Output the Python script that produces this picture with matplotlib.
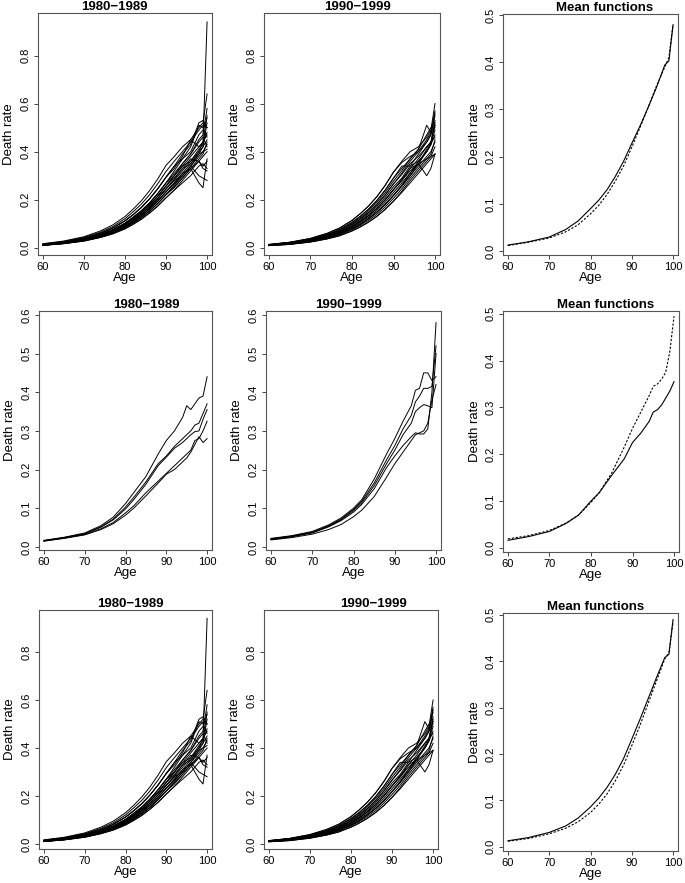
import numpy as np
import matplotlib
matplotlib.use("Agg")
import matplotlib.pyplot as plt

plt.rcParams['font.family'] = ['Liberation Sans', 'DejaVu Sans']

age_a = [60, 65, 70, 74, 77, 80, 82, 84, 86, 88, 90, 92, 94, 96, 98, 99, 100]
age_b = [60, 65, 70, 74, 77, 80, 82, 85, 88, 90, 92, 94, 95, 96, 97, 98, 99, 100]

# 1980-1989, all regions
rates_80s = [
    [.017, .028, .046, .070, .095, .130, .161, .196, .238, .287, .343, .380, .420, .450, .500, .520, .640],
    [.016, .026, .043, .065, .088, .121, .150, .182, .221, .267, .318, .360, .400, .440, .490, .510, .500],
    [.014, .024, .040, .060, .082, .112, .138, .168, .204, .246, .294, .330, .380, .450, .420, .440, .470],
    [.014, .024, .040, .060, .082, .112, .138, .168, .204, .246, .294, .340, .370, .400, .470, .490, .540],
    [.013, .022, .036, .055, .075, .102, .127, .154, .187, .226, .270, .310, .350, .390, .450, .470, .580],
    [.013, .022, .036, .055, .075, .102, .127, .154, .187, .226, .270, .300, .340, .360, .400, .420, .450],
    [.013, .021, .035, .053, .071, .098, .121, .147, .179, .215, .257, .300, .340, .380, .420, .440, .940],
    [.013, .021, .035, .053, .071, .098, .121, .147, .179, .215, .257, .290, .330, .370, .360, .330, .320],
    [.012, .020, .033, .050, .068, .093, .115, .140, .170, .205, .245, .280, .320, .360, .410, .430, .550],
    [.012, .020, .033, .050, .068, .093, .115, .140, .170, .205, .245, .285, .330, .350, .390, .400, .430],
    [.012, .020, .033, .050, .068, .093, .115, .140, .170, .205, .245, .280, .300, .340, .300, .290, .280],
    [.011, .019, .031, .048, .065, .088, .109, .133, .162, .195, .233, .270, .310, .350, .400, .440, .480],
    [.011, .019, .031, .048, .065, .088, .109, .133, .162, .195, .233, .265, .300, .340, .380, .400, .410],
    [.011, .019, .031, .048, .065, .088, .109, .133, .162, .195, .233, .270, .310, .330, .270, .250, .370],
    [.011, .018, .030, .045, .061, .084, .104, .126, .153, .185, .221, .255, .290, .330, .370, .390, .440],
    [.011, .018, .030, .045, .061, .084, .104, .126, .153, .185, .221, .250, .290, .330, .360, .340, .360],
    [.011, .018, .030, .045, .061, .084, .104, .126, .153, .185, .221, .260, .300, .340, .390, .420, .520],
    [.010, .017, .028, .043, .058, .079, .098, .119, .145, .174, .208, .240, .280, .320, .360, .380, .400],
    [.010, .017, .028, .043, .058, .079, .098, .119, .145, .174, .208, .240, .270, .300, .340, .350, .330],
    [.013, .022, .036, .055, .075, .102, .127, .154, .187, .226, .270, .320, .370, .420, .510, .500, .460],
    [.014, .024, .040, .060, .082, .112, .138, .168, .204, .246, .294, .340, .390, .430, .520, .530, .500],
    [.013, .021, .035, .053, .071, .098, .121, .147, .179, .215, .257, .300, .350, .390, .440, .460, .420],
]

# 1990-1999, all regions
rates_90s = [
    [.014, .023, .039, .060, .082, .114, .142, .174, .213, .260, .315, .360, .400, .420, .460, .490, .600],
    [.014, .023, .039, .060, .082, .114, .142, .174, .213, .260, .315, .355, .380, .400, .440, .470, .550],
    [.013, .022, .036, .055, .076, .106, .131, .161, .197, .240, .290, .330, .370, .410, .510, .480, .500],
    [.013, .022, .036, .055, .076, .106, .131, .161, .197, .240, .290, .340, .340, .360, .400, .430, .520],
    [.012, .020, .033, .051, .069, .097, .120, .147, .180, .220, .266, .310, .360, .400, .450, .480, .570],
    [.012, .020, .033, .051, .069, .097, .120, .147, .180, .220, .266, .305, .350, .380, .420, .440, .460],
    [.011, .018, .030, .046, .063, .088, .109, .134, .164, .200, .242, .285, .330, .370, .420, .440, .530],
    [.011, .018, .030, .046, .063, .088, .109, .134, .164, .200, .242, .280, .320, .350, .400, .430, .490],
    [.011, .018, .030, .046, .063, .088, .109, .134, .164, .200, .242, .280, .330, .350, .300, .330, .390],
    [.010, .016, .027, .041, .057, .079, .098, .121, .148, .180, .218, .260, .300, .340, .380, .400, .440],
    [.010, .016, .027, .041, .057, .079, .098, .121, .148, .180, .218, .255, .300, .350, .410, .440, .510],
    [.010, .016, .027, .041, .057, .079, .098, .121, .148, .180, .218, .260, .310, .350, .370, .380, .390],
    [.009, .014, .024, .037, .050, .070, .087, .107, .131, .160, .194, .235, .280, .320, .360, .380, .420],
    [.009, .014, .024, .037, .050, .070, .087, .107, .131, .160, .194, .230, .270, .310, .350, .370, .390],
    [.012, .019, .032, .048, .066, .092, .114, .141, .172, .210, .254, .290, .340, .390, .440, .470, .560],
    [.011, .017, .029, .044, .060, .084, .104, .127, .156, .190, .230, .270, .310, .360, .400, .430, .470],
    [.010, .015, .026, .039, .054, .075, .093, .114, .139, .170, .206, .245, .290, .330, .370, .390, .450],
    [.013, .021, .035, .053, .072, .101, .125, .154, .189, .230, .278, .320, .370, .410, .470, .500, .510],
]

# 1980-1989, subset
sub_80s = [
    [.017, .025, .036, .055, .077, .112, .140, .182, .240, .275, .300, .335, .365, .355, .370, .385, .390, .440],
    [.016, .024, .034, .052, .072, .103, .128, .168, .215, .235, .260, .280, .290, .300, .315, .320, .345, .370],
    [.016, .024, .034, .051, .070, .098, .122, .162, .210, .232, .255, .270, .280, .290, .298, .300, .330, .355],
    [.015, .023, .032, .047, .063, .088, .106, .140, .170, .190, .210, .230, .240, .250, .275, .280, .300, .325],
    [.015, .022, .031, .045, .060, .082, .100, .132, .165, .188, .200, .220, .230, .245, .265, .285, .270, .280],
]

# 1990-1999, subset
sub_90s = [
    [.022, .029, .040, .057, .075, .100, .122, .175, .240, .280, .325, .365, .405, .410, .450, .450, .430, .440],
    [.021, .028, .038, .055, .072, .097, .118, .165, .225, .262, .305, .340, .375, .390, .410, .410, .415, .520],
    [.020, .027, .037, .053, .070, .094, .114, .158, .215, .250, .290, .320, .350, .360, .368, .365, .360, .500],
    [.019, .026, .036, .052, .068, .090, .110, .150, .205, .235, .262, .285, .295, .292, .292, .305, .400, .580],
    [.018, .024, .033, .045, .058, .078, .095, .130, .180, .215, .245, .275, .290, .295, .300, .320, .380, .420],
]

# mean functions
mean1_80s = [.013, .020, .030, .046, .064, .090, .108, .130, .158, .190, .228, .265, .305, .347, .394, .403, .479]
mean1_90s = [.012, .019, .028, .041, .056, .079, .097, .120, .148, .180, .220, .262, .305, .350, .390, .410, .480]
mean2_80s = [.016, .024, .035, .052, .070, .100, .118, .155, .190, .225, .245, .270, .290, .295, .305, .320, .335, .355]
mean2_90s = [.019, .026, .037, .053, .070, .097, .118, .160, .215, .255, .290, .325, .345, .350, .360, .375, .420, .495]
mean3_80s = [.013, .020, .031, .045, .062, .086, .105, .128, .156, .190, .232, .275, .320, .365, .408, .415, .490]
mean3_90s = [.012, .018, .028, .040, .054, .074, .092, .114, .142, .176, .218, .262, .310, .358, .405, .418, .485]

W, H = 685, 883
fig = plt.figure(figsize=(W / 100, H / 100), dpi=100)


def add_ax(l, t, r, b):
    return fig.add_axes([l / W, 1 - b / H, (r - l) / W, (b - t) / H])


def style(ax, title, tx, yl, yt):
    ax.set_xlim(58.8, 101.2)
    ax.set_ylim(*yl)
    ax.set_xticks([60, 70, 80, 90, 100])
    ax.set_yticks(yt)
    ax.set_yticklabels([f"{v:.1f}" for v in yt], rotation=90, va="center")
    ax.tick_params(direction="out", length=3, width=0.7, labelsize=8, pad=2,
                   color="#444444")
    for s in ax.spines.values():
        s.set_linewidth(0.8)
        s.set_color("#555555")
    ax.set_title(title, x=tx, fontsize=9.5, fontweight="bold", pad=2)
    ax.set_xlabel("Age", fontsize=9.5, labelpad=0)
    ax.set_ylabel("Death rate", fontsize=9.5, labelpad=4)


big = (-0.03, 0.977)
t_big = [0.0, 0.2, 0.4, 0.6, 0.8]
t_half = [0.0, 0.1, 0.2, 0.3, 0.4, 0.5]
t_six = [0.0, 0.1, 0.2, 0.3, 0.4, 0.5, 0.6]
dots = (0, (2, 1.5))

# row 1
ax = add_ax(38, 13, 212, 255)
for c in rates_80s:
    ax.plot(age_a, c, color="black", lw=0.7)
style(ax, "1980\u22121989", 0.44, big, t_big)

ax = add_ax(264, 13, 440, 255)
for c in rates_90s:
    ax.plot(age_a, c, color="black", lw=0.7)
style(ax, "1990\u22121999", 0.53, big, t_big)

ax = add_ax(503, 14, 678, 255)
ax.plot(age_a, mean1_80s, color="black", lw=0.8)
ax.plot(age_a, mean1_90s, color="black", lw=0.8, ls=dots)
style(ax, "Mean functions", 0.58, (-0.008, 0.502), t_half)

# row 2
ax = add_ax(39, 311, 212, 550)
for c in sub_80s:
    ax.plot(age_b, c, color="black", lw=0.7)
style(ax, "1980\u22121989", 0.62, (-0.008, 0.61), t_six)

ax = add_ax(266, 311, 441, 550)
for c in sub_90s:
    ax.plot(age_b, c, color="black", lw=0.7)
style(ax, "1990\u22121999", 0.47, (-0.008, 0.61), t_six)

ax = add_ax(503, 311, 679, 552)
ax.plot(age_b, mean2_80s, color="black", lw=0.8)
ax.plot(age_b, mean2_90s, color="black", lw=0.8, ls=dots)
style(ax, "Mean functions", 0.58, (-0.009, 0.506), t_half)

# row 3
ax = add_ax(39, 610, 212, 849)
for c in rates_80s:
    ax.plot(age_a, c, color="black", lw=0.7)
style(ax, "1980\u22121989", 0.53, (-0.021, 0.975), t_big)

ax = add_ax(264, 610, 438, 849)
for c in rates_90s:
    ax.plot(age_a, c, color="black", lw=0.7)
style(ax, "1990\u22121999", 0.63, (-0.021, 0.975), t_big)

ax = add_ax(503, 613, 678, 851)
ax.plot(age_a, mean3_80s, color="black", lw=0.8)
ax.plot(age_a, mean3_90s, color="black", lw=0.8, ls=dots)
style(ax, "Mean functions", 0.53, (-0.009, 0.504), t_half)

fig.savefig("out.png", dpi=100)
